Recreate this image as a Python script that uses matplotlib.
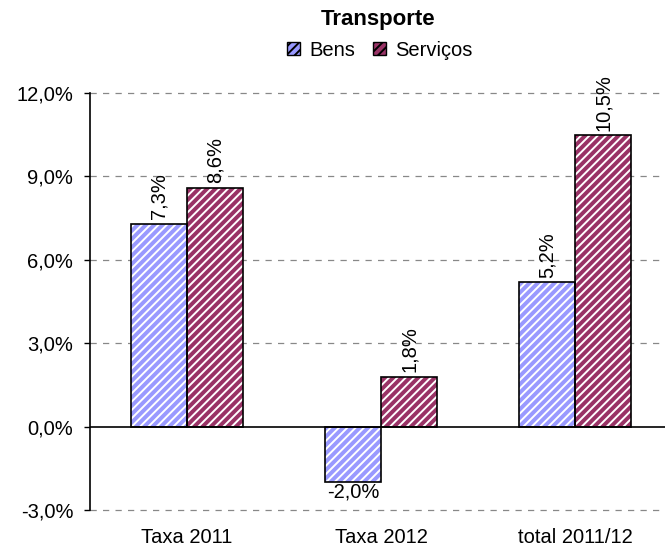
import matplotlib

matplotlib.use("Agg")
import matplotlib.pyplot as plt
import numpy as np
from matplotlib.patches import Patch

plt.rcParams["font.family"] = ["Liberation Sans", "DejaVu Sans"]
plt.rcParams["hatch.linewidth"] = 1.4

categories = ["Taxa 2011", "Taxa 2012", "total 2011/12"]
series_names = ["Bens", "Serviços"]
bens = [7.3, -2.0, 5.2]
servicos = [8.6, 1.8, 10.5]
yticks = [-3, 0, 3, 6, 9, 12]
colors = ["#9999ff", "#993366"]

fig = plt.figure(figsize=(6.65, 5.52), dpi=100)
ax = fig.add_axes([90 / 665, 42 / 552, 582 / 665, 417 / 552])

x = np.arange(len(categories))
w = 0.29
for offset, vals, col in [(-w / 2, bens, colors[0]), (w / 2, servicos, colors[1])]:
    # colour fill with white diagonal stripes, then a black outline on top
    ax.bar(x + offset, vals, w, color=col, edgecolor="white", hatch="////",
           linewidth=0, zorder=2)
    ax.bar(x + offset, vals, w, fill=False, edgecolor="black", linewidth=1.2,
           zorder=3)
    for xi, v in zip(x + offset, vals):
        txt = f"{v:.1f}%".replace(".", ",")
        if v >= 0:
            ax.annotate(txt, (xi, v), xytext=(0, 3), textcoords="offset points",
                        rotation=90, ha="center", va="bottom", fontsize=14.5)
        else:
            ax.annotate(txt, (xi, v), xytext=(0, 0), textcoords="offset points",
                        ha="center", va="top", fontsize=14.5)

ax.set_ylim(-3, 12)
ax.set_xlim(-0.5, 2.5)
ax.set_yticks(yticks)
ax.set_yticklabels([f"{t:.1f}%".replace(".", ",") for t in yticks], fontsize=14.5)
ax.set_xticks(x)
ax.set_xticklabels(categories, fontsize=14.5)
ax.tick_params(axis="x", length=0, pad=13)
ax.tick_params(axis="y", direction="out", length=4, width=1, pad=8)

for t in yticks:
    if t != 0:
        ax.axhline(t, color="#888888", lw=0.9, ls=(0, (5, 5)), zorder=1,
                   clip_on=False)
ax.axhline(0, color="black", lw=1.2, zorder=4)

for s in ["top", "right", "bottom"]:
    ax.spines[s].set_visible(False)
ax.spines["left"].set_linewidth(1.2)

fig.text(378 / 665, 1 - 20 / 552, "Transporte", ha="center", va="center",
         fontsize=16, fontweight="bold")
handles = [Patch(facecolor=c, edgecolor="black", hatch="////", label=n)
           for c, n in zip(colors, series_names)]
fig.legend(handles=handles, loc="center", bbox_to_anchor=(380 / 665, 1 - 50 / 552),
           ncol=2, frameon=False, fontsize=14.5, handlelength=0.65, handleheight=0.65,
           handletextpad=0.45, columnspacing=0.9, borderpad=0)

fig.savefig("out.png", dpi=100)
